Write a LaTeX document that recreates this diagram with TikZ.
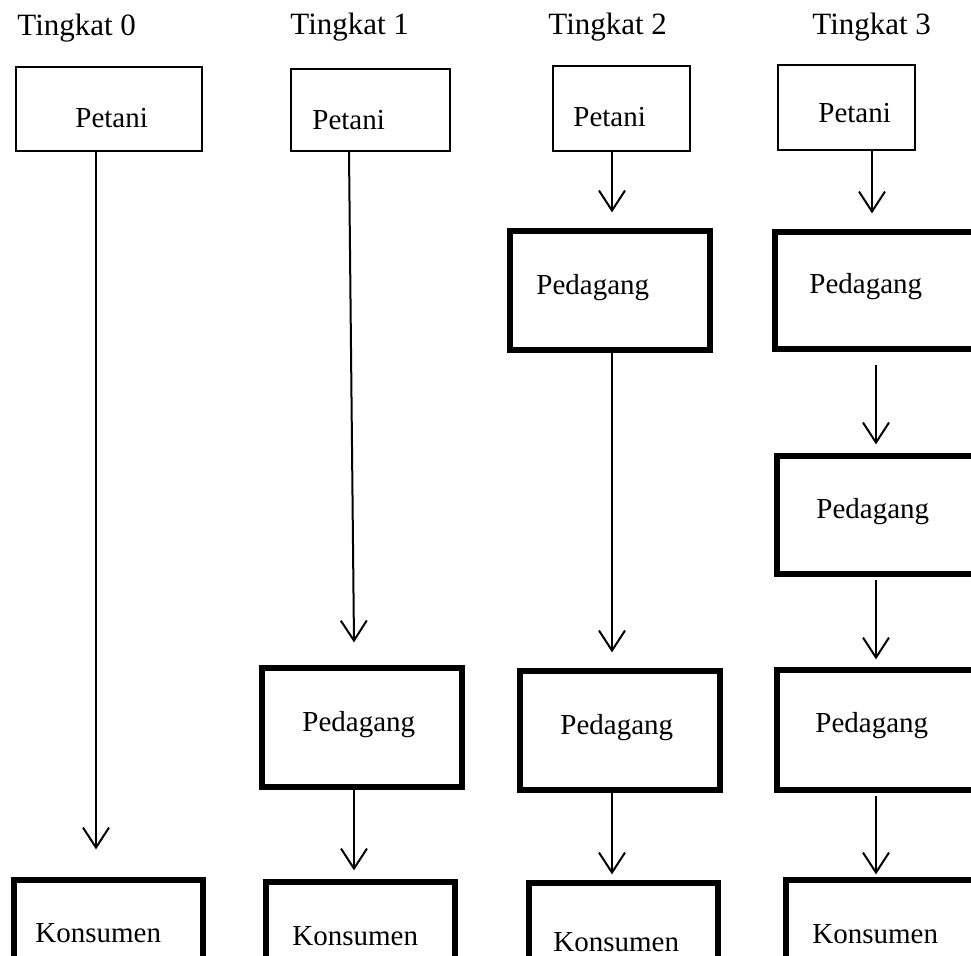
\documentclass[tikz,border=0pt]{standalone}
\usepackage{fontspec}
\setmainfont{Liberation Serif}
\usetikzlibrary{arrows.meta,fit,calc}
\begin{document}
\begin{tikzpicture}[x=0.5pt,y=-0.5pt,
  thinbox/.style={draw,line width=1pt,inner sep=0pt},
  thickbox/.style={draw,line width=2.6pt,inner sep=0pt},
  title/.style={anchor=base west,inner sep=0pt,font=\fontsize{15.5pt}{18pt}\selectfont},
  lbl/.style={anchor=base west,inner sep=0pt,font=\fontsize{14.5pt}{17pt}\selectfont},
  arr/.style={line width=1pt,-{Straight Barb[length=10pt,width=13pt,line width=1pt]}}]
\path[use as bounding box,clip] (0,0) rectangle (971,956);
% titles
\node[title] (t0) at (17,36) {Tingkat 0};
\node[title] (t1) at (290,35) {Tingkat 1};
\node[title] (t2) at (548,35) {Tingkat 2};
\node[title] (t3) at (812,35) {Tingkat 3};
% Petani boxes
\node[thinbox,fit={(16,67) (202,151)}] (p0) {};
\node[thinbox,fit={(291,69) (450,151)}] (p1) {};
\node[thinbox,fit={(553,66) (690,151)}] (p2) {};
\node[thinbox,fit={(778,65) (915,150)}] (p3) {};
\node[lbl] (p0t) at (75,128) {Petani};
\node[lbl] (p1t) at (312,130) {Petani};
\node[lbl] (p2t) at (573,127) {Petani};
\node[lbl] (p3t) at (818,123) {Petani};
% Pedagang boxes
\node[thickbox,fit={(262,668) (462,787)}] (d1) {};
\node[thickbox,fit={(510,231) (710,350)}] (d2a) {};
\node[thickbox,fit={(520,671) (720,790)}] (d2b) {};
\node[thickbox,fit={(775,232) (990,349)}] (d3a) {};
\node[thickbox,fit={(777,456) (990,574)}] (d3b) {};
\node[thickbox,fit={(777,670) (990,790)}] (d3c) {};
\node[lbl] (d1t) at (302,732) {Pedagang};
\node[lbl] (d2at) at (536,295) {Pedagang};
\node[lbl] (d2bt) at (560,735) {Pedagang};
\node[lbl] (d3at) at (809,294) {Pedagang};
\node[lbl] (d3bt) at (816,519) {Pedagang};
\node[lbl] (d3ct) at (815,733) {Pedagang};
% Konsumen boxes
\node[thickbox,fit={(14,880) (203,1010)}] (k0) {};
\node[thickbox,fit={(266,882) (455,1010)}] (k1) {};
\node[thickbox,fit={(529,883) (718,1010)}] (k2) {};
\node[thickbox,fit={(786,880) (990,1010)}] (k3) {};
\node[lbl] (k0t) at (35,943) {Konsumen};
\node[lbl] (k1t) at (292,946) {Konsumen};
\node[lbl] (k2t) at (553,952) {Konsumen};
\node[lbl] (k3t) at (812,944) {Konsumen};
% arrows
\draw[arr] ($(p0.south)+(-13,0)$) -- ($(k0.north)+(-12.5,-28)$);
\draw[arr] ($(p1.south)+(-21.5,0)$) -- ($(d1.north)+(-8,-23)$);
\draw[arr] ($(d1.south)+(-8,0)$) -- ($(k1.north)+(-6.5,-9)$);
\draw[arr] ($(p2.south)+(-9.5,0)$) -- ($(d2a.north)+(2,-16)$);
\draw[arr] ($(d2a.south)+(2,0)$) -- ($(d2b.north)+(-8,-16)$);
\draw[arr] ($(d2b.south)+(-8,0)$) -- ($(k2.north)+(-11.5,-6)$);
\draw[arr] ($(p3.south)+(25.5,0)$) -- ($(d3a.north)+(-10.5,-16)$);
\draw[arr] ($(d3a.south)+(-6.5,13)$) -- ($(d3b.north)+(-7.5,-9)$);
\draw[arr] ($(d3b.south)+(-7.5,3)$) -- ($(d3c.north)+(-7.5,-8)$);
\draw[arr] ($(d3c.south)+(-7.5,3)$) -- ($(k3.north)+(-12,-3)$);
\end{tikzpicture}
\end{document}
